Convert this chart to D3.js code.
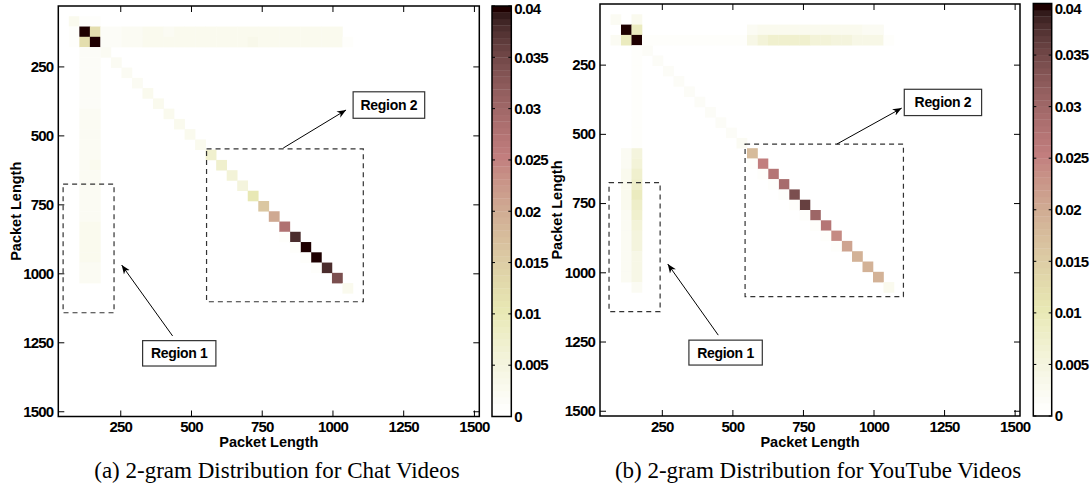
<!DOCTYPE html>
<html>
<head>
<meta charset="utf-8">
<script src="https://cdn.jsdelivr.net/npm/d3@7"></script>
<style>
body { margin: 0; background: #fff; }
svg text { font-family: "Liberation Sans", Arial, Helvetica, sans-serif; font-weight: bold; fill: #000; }
svg text.caption { font-family: "Liberation Serif", "Times New Roman", serif; font-weight: normal; }
</style>
</head>
<body>
<svg id="fig" width="1091" height="489"></svg>
<script>
// DATA ------------------------------------
// 40 x 40 packet-length bins, axis runs 31..1519 bytes
const nBins = 40
const lenDomain = [31, 1519]
const tickVals = [250, 500, 750, 1000, 1250, 1500]
const cbarTicks = [0, 0.005, 0.01, 0.015, 0.02, 0.025, 0.03, 0.035, 0.04]
const cbarLabels = ['0', '0.005', '0.01', '0.015', '0.02', '0.025', '0.03', '0.035', '0.04']
const vMax = 0.04

// (a) chat videos  -- [xBin, yBin, value]
const chatCore = [[1,1,0.003],[2,1,0.001],[3,1,0.001],[1,2,0.001],[2,2,0.04],[3,2,0.012],[1,3,0.001],[2,3,0.012],[3,3,0.04]]
// diagonal bins 4..27
const chatDiag = [0.002,0.002,0.002,0.002,0.003,0.003,0.003,0.003,0.003,0.003,0.007,0.007,0.006,0.005,0.010,0.016,0.020,0.028,0.038,0.040,0.040,0.038,0.034,0.003]
// row 2 bins 4..26, row 3 bins 4..27
const chatRow2 = [0.0015,0.0015,0.002,0.002,0.0025,0.0025,0.002,0.0025,0.0025,0.003,0.003,0.003,0.003,0.003,0.003,0.003,0.0025,0.003,0.003,0.0025,0.0025,0.003,0.003]
const chatRow3 = [0.0015,0.0015,0.002,0.002,0.0025,0.0025,0.0025,0.0025,0.003,0.003,0.003,0.003,0.003,0.003,0.0035,0.003,0.003,0.003,0.003,0.0025,0.003,0.003,0.003,0.001]
// columns 2 and 3, rows 4..26
const chatCol2 = [0.0015,0.0015,0.0015,0.0015,0.0015,0.0015,0.002,0.002,0.002,0.002,0.002,0.002,0.002,0.002,0.002,0.002,0.002,0.0025,0.0025,0.0025,0.0025,0.002,0.002]
const chatCol3 = [0.0015,0.0015,0.0015,0.0015,0.0015,0.0015,0.002,0.002,0.002,0.002,0.002,0.0025,0.002,0.002,0.002,0.002,0.002,0.0025,0.0025,0.0025,0.0025,0.002,0.002]
// just below the diagonal, rows 22..25
const chatSub = [0.0008,0.0008,0.0008,0.0008]

// (b) youtube videos
const ytCore = [[1,1,0.002],[3,1,0.003],[2,2,0.04],[3,2,0.009],[1,3,0.002],[2,3,0.009],[3,3,0.04]]
const ytDiag = [0.0015,0.0015,0.0015,0.0015,0.0015,0.0015,0.0015,0.0015,0.0015,0.002,0.018,0.025,0.027,0.029,0.034,0.036,0.030,0.027,0.024,0.021,0.019,0.019,0.019,0.003]
// row 2 bins 14..26, row 3 bins 4..27
const ytRow2 = [0.002,0.0025,0.003,0.003,0.003,0.003,0.003,0.003,0.0025,0.0025,0.0025,0.002,0.002]
const ytRow3 = [0.001,0.001,0.001,0.001,0.001,0.001,0.001,0.001,0.001,0.001,0.004,0.006,0.007,0.007,0.007,0.007,0.006,0.006,0.005,0.005,0.004,0.004,0.004,0.001]
// column 2 rows 14..26, column 3 rows 4..27
const ytCol2 = [0.002,0.002,0.0025,0.0025,0.0025,0.0025,0.002,0.002,0.002,0.002,0.002,0.002,0.002]
const ytCol3 = [0.001,0.001,0.001,0.001,0.001,0.001,0.001,0.001,0.001,0.001,0.005,0.006,0.007,0.008,0.009,0.008,0.007,0.006,0.005,0.005,0.004,0.004,0.004,0.002]
// just below the diagonal, rows 15..23
const ytSub = [0.0008,0.0008,0.0008,0.0008,0.0008,0.0008,0.0008,0.0008,0.0008]

// region annotations, in packet-length units
const regionBoxes = [[48, 677, 228, 1143], [555, 549, 1109, 1103]]
const regionLabels = ['Region 1', 'Region 2']
const labelBoxes = [[329, 1244, 588, 1336], [1073, 342, 1326, 438]]
const arrows = [[435, 1227, 255, 970], [826, 546, 1048, 408]]
const ytRegionBoxes = [[63, 676, 244, 1142], [545, 537, 1106, 1088]]
const ytLabelBoxes = [[346, 1245, 606, 1335], [1109, 339, 1383, 434]]
const ytArrows = [[450, 1227, 271, 970], [870, 537, 1100, 407]]

const captions = ['(a) 2-gram Distribution for Chat Videos', '(b) 2-gram Distribution for YouTube Videos']

// BUILD CELLS ------------------------------
function band(list, arr, fixed, start, isRow) {
	arr.forEach((v, i) => list.push(isRow ? [start + i, fixed, v] : [fixed, start + i, v]))
}
function chatCells() {
	let c = chatCore.slice()
	chatDiag.forEach((v, i) => c.push([4 + i, 4 + i, v]))
	band(c, chatRow2, 2, 4, true)
	band(c, chatRow3, 3, 4, true)
	band(c, chatCol2, 2, 4, false)
	band(c, chatCol3, 3, 4, false)
	chatSub.forEach((v, i) => c.push([21 + i, 22 + i, v]))
	return c
}
function ytCells() {
	let c = ytCore.slice()
	ytDiag.forEach((v, i) => c.push([4 + i, 4 + i, v]))
	band(c, ytRow2, 2, 14, true)
	band(c, ytRow3, 3, 4, true)
	band(c, ytCol2, 2, 14, false)
	band(c, ytCol3, 3, 4, false)
	ytSub.forEach((v, i) => c.push([14 + i, 15 + i, v]))
	return c
}

// COLORMAP: flipped matlab "pink", 64 levels
const m = 64, nh = 24
let pinkColors = d3.range(m).map(k => {
	let g = k / (m - 1)
	let hr = k < nh ? (k + 1) / nh : 1
	let hg = k < nh ? 0 : (k < 2 * nh ? (k - nh + 1) / nh : 1)
	let hb = k < 2 * nh ? 0 : (k - 2 * nh + 1) / (m - 2 * nh)
	let f = h => Math.round(255 * Math.sqrt((2 * g + h) / 3))
	return d3.rgb(f(hr), f(hg), f(hb)).formatHex()
}).reverse()
const color = d3.scaleQuantize().domain([0, vMax]).range(pinkColors)

// CHART ------------------------------------
const svg = d3.select('#fig')

const panels = [
	{ x0: 58.3, x1: 479.3, y0: 6, y1: 416.5, cb: [492, 511.3, 6, 416.5], ylab: 20.5,
	  cells: chatCells(), boxes: regionBoxes, lboxes: labelBoxes, arr: arrows, cap: captions[0], capX: 277 },
	{ x0: 600, x1: 1020, y0: 4, y1: 416, cb: [1033.3, 1051.7, 3.5, 416], ylab: 561.5,
	  cells: ytCells(), boxes: ytRegionBoxes, lboxes: ytLabelBoxes, arr: ytArrows, cap: captions[1], capX: 818 }
]

svg.append('defs').append('marker')
	.attr('id', 'arrowhead')
	.attr('viewBox', '0 0 10 10')
	.attr('refX', 10).attr('refY', 5)
	.attr('markerWidth', 9).attr('markerHeight', 9)
	.attr('markerUnits', 'userSpaceOnUse')
	.attr('orient', 'auto')
	.append('path')
	.attr('d', 'M0,1 L10,5 L0,9 L3,5 Z')
	.attr('fill', '#000')

panels.forEach(p => {
	let g = svg.append('g')
	let xBand = d3.scaleBand().domain(d3.range(nBins)).range([p.x0, p.x1])
	let yBand = d3.scaleBand().domain(d3.range(nBins)).range([p.y0, p.y1])
	let xScale = d3.scaleLinear().domain(lenDomain).range([p.x0, p.x1])
	let yScale = d3.scaleLinear().domain(lenDomain).range([p.y0, p.y1])

	// cells
	g.selectAll('.cell')
		.data(p.cells)
		.enter()
		.append('rect')
		.attr('class', 'cell')
		.attr('x', d => xBand(d[0]))
		.attr('y', d => yBand(d[1]))
		.attr('width', xBand.bandwidth() + 0.3)
		.attr('height', yBand.bandwidth() + 0.3)
		.attr('fill', d => color(d[2]))

	// axes, ticks inward on all four sides
	let axes = [
		[d3.axisBottom(xScale), `translate(0,${p.y1})`, true],
		[d3.axisTop(xScale), `translate(0,${p.y0})`, false],
		[d3.axisLeft(yScale), `translate(${p.x0},0)`, true],
		[d3.axisRight(yScale), `translate(${p.x1},0)`, false]
	]
	axes.forEach(a => {
		let ax = a[0].tickValues(tickVals).tickSizeInner(-6).tickSizeOuter(0)
			.tickPadding(a[2] ? 5 : 0)
			.tickFormat(a[2] ? d3.format('d') : '')
		let ag = g.append('g').attr('transform', a[1]).call(ax)
		ag.select('.domain').remove()
		ag.selectAll('line').attr('stroke', '#000').attr('stroke-width', 1)
		ag.selectAll('text')
			.attr('font-size', 15)
			.attr('letter-spacing', -0.8)
			.attr('font-family', null)
	})

	g.append('rect')
		.attr('x', p.x0).attr('y', p.y0)
		.attr('width', p.x1 - p.x0).attr('height', p.y1 - p.y0)
		.attr('fill', 'none').attr('stroke', '#000').attr('stroke-width', 1.5)

	// axis titles
	g.append('text')
		.attr('x', (p.x0 + p.x1) / 2).attr('y', 446.5)
		.attr('text-anchor', 'middle').attr('font-size', 14.5)
		.text('Packet Length')
	g.append('text')
		.attr('transform', `translate(${p.ylab},${(p.y0 + p.y1) / 2}) rotate(-90)`)
		.attr('text-anchor', 'middle').attr('font-size', 14.5)
		.text('Packet Length')

	// colorbar
	let cbY = d3.scaleLinear().domain([0, vMax]).range([p.cb[3], p.cb[2]])
	let step = vMax / m
	g.selectAll('.cbar')
		.data(pinkColors)
		.enter()
		.append('rect')
		.attr('class', 'cbar')
		.attr('x', p.cb[0]).attr('width', p.cb[1] - p.cb[0])
		.attr('y', (d, i) => cbY((i + 1) * step))
		.attr('height', (d, i) => cbY(i * step) - cbY((i + 1) * step) + 0.3)
		.attr('fill', d => d)
	g.append('rect')
		.attr('x', p.cb[0]).attr('y', p.cb[2])
		.attr('width', p.cb[1] - p.cb[0]).attr('height', p.cb[3] - p.cb[2])
		.attr('fill', 'none').attr('stroke', '#000').attr('stroke-width', 1.5)
	cbarTicks.forEach((t, i) => {
		g.append('line').attr('x1', p.cb[0]).attr('x2', p.cb[0] + 3)
			.attr('y1', cbY(t)).attr('y2', cbY(t)).attr('stroke', '#000')
		g.append('line').attr('x1', p.cb[1] - 3).attr('x2', p.cb[1])
			.attr('y1', cbY(t)).attr('y2', cbY(t)).attr('stroke', '#000')
		g.append('text')
			.attr('x', p.cb[1] + 3).attr('y', Math.max(cbY(t), 9)).attr('dy', '0.35em')
			.attr('font-size', 15).attr('letter-spacing', -0.8)
			.text(cbarLabels[i])
	})

	// annotations
	p.boxes.forEach(b => {
		g.append('rect')
			.attr('x', xScale(b[0])).attr('y', yScale(b[1]))
			.attr('width', xScale(b[2]) - xScale(b[0])).attr('height', yScale(b[3]) - yScale(b[1]))
			.attr('fill', 'none').attr('stroke', '#333').attr('stroke-width', 1.2)
			.attr('stroke-dasharray', '5,4')
	})
	p.arr.forEach(a => {
		g.append('line')
			.attr('x1', xScale(a[0])).attr('y1', yScale(a[1]))
			.attr('x2', xScale(a[2])).attr('y2', yScale(a[3]))
			.attr('stroke', '#000').attr('stroke-width', 1)
			.attr('marker-end', 'url(#arrowhead)')
	})
	p.lboxes.forEach((b, i) => {
		g.append('rect')
			.attr('x', xScale(b[0])).attr('y', yScale(b[1]))
			.attr('width', xScale(b[2]) - xScale(b[0])).attr('height', yScale(b[3]) - yScale(b[1]))
			.attr('fill', '#fff').attr('stroke', '#333').attr('stroke-width', 1.2)
		g.append('text')
			.attr('x', xScale((b[0] + b[2]) / 2)).attr('y', yScale((b[1] + b[3]) / 2)).attr('dy', '0.36em')
			.attr('text-anchor', 'middle').attr('font-size', 14).attr('letter-spacing', -0.3)
			.text(regionLabels[i])
	})

	// caption
	g.append('text')
		.attr('class', 'caption')
		.attr('x', p.capX).attr('y', 478)
		.attr('text-anchor', 'middle').attr('font-size', 23)
		.text(p.cap)
})
</script>
</body>
</html>
